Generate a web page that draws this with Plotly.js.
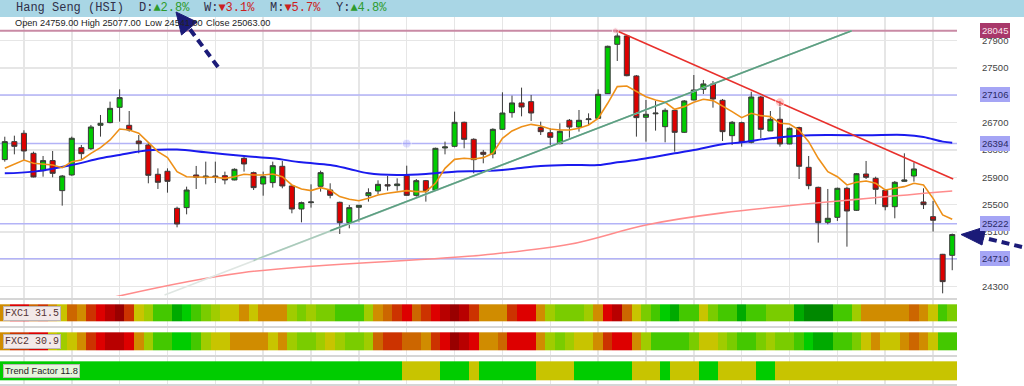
<!DOCTYPE html>
<html>
<head>
<meta charset="utf-8">
<script src="https://cdn.plot.ly/plotly-3.0.1.min.js"></script>
<style>html,body{margin:0;padding:0;background:#fff;}#chart{width:1024px;height:386px;}</style>
</head>
<body>
<div id="chart"></div>
<script>
// ---------------- DATA ----------------
const days = [...Array(100).keys()];
const openP = [26160,26423,26545,26252,25998,26145,25706,25935,26335,26320,26662,26701,26925,26662,26432,26374,25945,25989,25447,25457,
25935,25896,25920,25925,25862,26179,25969,25803,25823,26062,25774,25437,25530,25769,25715,25535,25237,25462,25632,25701,
25793,25779,25925,25637,25852,25710,26330,26354,26706,26457,26267,26242,26603,26847,26989,27008,26628,26554,26393,26735,
26637,26745,26764,27125,27847,27969,27384,26779,26830,26642,26881,26559,27032,27188,27267,27028,26510,26701,26413,27076,
26579,26750,26389,26628,26047,25754,25242,25315,25740,25418,25949,25886,25710,25471,25842,25920,25540,25325,24774,24759];
const highP = [26495,26510,26589,26276,26213,26286,25935,26496,26374,26667,26813,27008,27188,26871,26520,26398,26032,26032,25471,25764,
26067,26130,26130,25984,26032,26203,25984,25984,26130,26140,25789,25545,25798,25998,25813,25545,25496,25496,25740,25857,
25920,25886,26071,25876,25862,26335,26423,26862,26715,26472,26301,26618,27145,27096,27213,27106,26715,26618,26691,26754,
26886,26837,27188,27828,28045,27984,27398,27032,27018,26910,26886,27032,27398,27325,27310,27047,26725,26715,27154,27091,
26871,27018,26628,26642,26213,25764,25730,25750,25764,25964,26140,25910,25725,25847,26252,26120,25740,25554,24780,25077];
const lowP = [26130,26237,26154,25900,25910,25901,25486,25925,26154,26301,26496,26691,26715,26569,26252,25813,25730,25676,25169,25359,
25730,25798,25818,25798,25857,25984,25715,25632,25750,25740,25374,25242,25457,25691,25593,25071,25154,25252,25545,25652,
25706,25706,25632,25618,25545,25706,26237,26340,26325,25959,26106,26179,26593,26774,26793,26725,26520,26374,26384,26481,
26569,26667,26754,27120,27603,27379,26496,26423,26584,26413,26276,26549,27028,27120,26920,26432,26374,26349,26398,26472,
26579,26349,26384,25876,25725,24945,25213,25262,24886,25408,25876,25506,25418,25301,25837,25837,25437,25106,24203,24541];
const closeP = [26423,26354,26286,25906,26145,25959,25920,26472,26247,26637,26691,26910,27067,26593,26393,25930,25828,25842,25218,25715,
25901,25920,25901,25862,26018,26096,25750,25910,26071,25774,25437,25530,25540,25969,25637,25237,25457,25491,25676,25798,
25774,25803,25637,25852,25701,26325,26345,26706,26457,26159,26237,26603,26842,26989,26930,26842,26569,26486,26574,26637,
26735,26755,27115,27818,27969,27388,26774,26823,26840,26881,26559,27018,27179,27267,27047,26569,26706,26413,27076,26603,
26750,26389,26618,26062,25779,25237,25301,25740,25408,25954,25901,25725,25471,25828,25862,26023,25501,25272,24374,25063];

// short moving average (orange), read per day
const maShort = [26032,26091,26154,26106,26091,26081,26042,26130,26154,26252,26335,26447,26608,26593,26545,26413,26276,26189,25984,25910,
25901,25901,25901,25886,25910,25945,25935,25935,25950,25910,25789,25730,25706,25750,25715,25618,25579,25559,25593,25642,
25667,25691,25706,25691,25691,25813,26032,26164,26179,26169,26189,26252,26472,26579,26642,26676,26652,26608,26593,26593,
26618,26667,26764,26984,27228,27237,27154,27081,27032,26998,26896,26935,26998,27042,27023,26945,26862,26774,26837,26803,
26789,26691,26681,26593,26423,26179,25984,25910,25789,25828,25847,25813,25715,25740,25764,25813,25789,25593,25350,25286];
// medium moving average (blue)
const maMidX = [0,3,7,10,12,15,18,21,25,28,31,34,36,38,41,44,47,50,53,56,59,62,64,66,68,70,72,75,77,80,83,86,90,94,96,98,99];
const maMidY = [25959,25984,26081,26179,26228,26296,26306,26267,26213,26179,26120,26081,26023,25959,25935,25950,25984,25993,26023,26067,26081,26081,26120,26154,26203,26252,26301,26384,26413,26472,26510,26520,26515,26520,26491,26423,26408];
// long moving average (light red)
const maLongX = [11.5,24.8,50,59,67,75,99];
const maLongY = [24150,24505,24764,24920,25203,25380,25700];

// drawn trend lines
const supportX = [16.7,88.5];
const supportY = [24180,28045];
const supportMidX = [26,88.5];
const supportMidY = [24685,28045];
const supportDarkX = [34,88.5];
const supportDarkY = [25117,28045];
const resistX = [63.94,99.1];
const resistY = [28045,25876];

// horizontal levels
const levels = [28045,27106,26394,25222,24710];
const tickVals = [24300,24700,25100,25500,25900,26300,26700,27100,27500,27900];
const tickText = ['24300','','25100','25500','25900','26300','26700','','27500','27900'];
const gridDays = [2,7,12,17,22,27,32,37,42,47,52,57,62,67,72,77,82,87,92,97];

// indicator strips (colour level 0 = dark red ... 12 = dark green)
const fxc1 = [5,2,2,4,3,5,6,4,5,3,2,1,0,3,6,7,9,9,11,10,9,8,7,6,6,5,6,5,5,5,7,8,7,8,8,9,9,9,7,5,4,3,2,4,3,2,1,0,1,3,
5,5,5,3,2,2,5,7,8,8,8,7,5,2,1,4,6,8,9,10,11,9,9,6,8,9,9,11,9,9,8,8,8,11,12,12,12,9,9,7,5,5,5,5,5,4,5,6,9,8];
const fxc2 = [5,3,3,2,2,6,7,6,5,3,2,1,1,2,5,7,9,9,10,10,9,7,6,6,5,5,5,5,6,5,7,8,8,7,6,7,8,8,7,4,3,3,4,4,5,3,2,0,1,2,
5,5,4,2,2,2,5,7,8,7,6,6,5,3,2,2,5,7,9,9,9,9,8,6,6,7,8,9,9,8,7,8,8,9,10,11,11,9,9,8,6,5,6,6,5,4,5,6,9,9];
const trend = [10,10,10,10,10,10,10,10,10,10,10,10,10,10,10,10,10,10,10,10,10,10,10,10,10,10,10,10,10,10,10,10,10,10,10,10,10,10,10,10,
10,10,6,6,6,6,10,10,10,6,10,10,10,10,10,10,6,6,6,6,10,10,10,10,10,10,6,6,6,10,6,6,6,10,10,6,6,6,6,10,
10,6,6,6,6,6,6,6,6,6,6,6,6,6,6,6,6,6,6,6];
const levelColors = ['#990000','#b80000','#dd0000','#cc3300','#cc6600','#d08c00','#c8c400','#a0cc00','#7acc00','#44c800','#00cc00','#00aa00','#008800'];

const headerItems = ['Hang Seng (HSI)','D:','W:','M:','Y:'];
const headerChanges = ['', '▲2.8%', '▼3.1%', '▼5.7%', '▲4.8%'];
const ohlcText = ['Open 24759.00','High 25077.00','Low 24541.00','Close 25063.00'];
const stripLabels = ['FXC1 31.5','FXC2 30.9','Trend Factor 11.8'];

// ---------------- LAYOUT HELPERS ----------------
const W = 1024, H = 386, PLOT_R = 957;
const P = x => x / W;
const Q = y => 1 - y / H;

const nullRow = days.map(() => null);
const cs = levelColors.map((c, i) => [i / (levelColors.length - 1), c]);

const traces = [
  {type:'candlestick', x:days, open:openP, high:highP, low:lowP, close:closeP,
   increasing:{line:{color:'#3a3a3a', width:1}, fillcolor:'#00cc00'},
   decreasing:{line:{color:'#3a3a3a', width:1}, fillcolor:'#dd0000'},
   whiskerwidth:0, hoverinfo:'skip', xaxis:'x', yaxis:'y'},
  {type:'scatter', mode:'lines', x:maLongX, y:maLongY, line:{color:'#ff8c8c', width:1.6, shape:'spline'}, hoverinfo:'skip'},
  {type:'scatter', mode:'lines', x:maMidX, y:maMidY, line:{color:'#1a1aee', width:2, shape:'spline'}, hoverinfo:'skip'},
  {type:'scatter', mode:'lines', x:days, y:maShort, line:{color:'#ee9018', width:1.6}, hoverinfo:'skip'},
  {type:'scatter', mode:'lines', x:supportX, y:supportY, line:{color:'#dfe6e2', width:1.6}, hoverinfo:'skip'},
  {type:'scatter', mode:'lines', x:supportMidX, y:supportMidY, line:{color:'#a9cbbb', width:1.6}, hoverinfo:'skip'},
  {type:'scatter', mode:'lines', x:supportDarkX, y:supportDarkY, line:{color:'#5c9f82', width:1.6}, hoverinfo:'skip'},
  {type:'scatter', mode:'lines', x:resistX, y:resistY, line:{color:'#e8302c', width:1.6}, hoverinfo:'skip'},
  {type:'scatter', mode:'markers', x:[42, 81, 63.8], y:[26394, 27000, 28045],
   marker:{size:[9,9,6], color:['rgba(150,150,255,0.45)','rgba(255,110,110,0.55)','rgba(230,120,140,0.6)']}, hoverinfo:'skip'},
  {type:'heatmap', x:days, y:[304.3,321.7,332.3,350.7,361,380.7],
   z:[fxc1, nullRow, fxc2, nullRow, trend], zmin:0, zmax:12, colorscale:cs, showscale:false,
   xaxis:'x', yaxis:'y2', hoverinfo:'skip', zsmooth:false}
];

const shapes = [];
// header band
shapes.push({type:'rect', xref:'paper', yref:'paper', x0:0, x1:1, y0:Q(17), y1:1, fillcolor:'#a9d6e5', line:{width:0}, layer:'below'});
// level lines
levels.forEach((v, i) => {
  shapes.push({type:'line', xref:'x', yref:'y', x0:-0.5, x1:99.5, y0:v, y1:v,
    line:{color: i === 0 ? '#c98aa5' : '#b3b3f7', width: i === 0 ? 2 : 1.5}, layer:'between'});
});
// arrows
const navy = '#1b1b78';
shapes.push({type:'line', xref:'paper', yref:'paper', x0:P(218), y0:Q(67), x1:P(189), y1:Q(28), line:{color:navy, width:4, dash:'8px,5px'}});
shapes.push({type:'path', xref:'paper', yref:'paper', path:`M ${P(176)} ${Q(12)} L ${P(197)} ${Q(22)} L ${P(181.5)} ${Q(35)} Z`, fillcolor:navy, line:{color:navy, width:1}});
shapes.push({type:'line', xref:'paper', yref:'paper', x0:P(1022), y0:Q(247), x1:P(983), y1:Q(237.5), line:{color:navy, width:4, dash:'8px,5px'}});
shapes.push({type:'path', xref:'paper', yref:'paper', path:`M ${P(961)} ${Q(234.5)} L ${P(986)} ${Q(226.5)} L ${P(982)} ${Q(245)} Z`, fillcolor:navy, line:{color:navy, width:1}});

const annotations = [];
// header text
const headerX = [15, 138, 203, 269, 335];
headerItems.forEach((t, i) => {
  const ch = headerChanges[i];
  const col = ch.startsWith('▲') ? '#2e9b2e' : '#cc2020';
  annotations.push({xref:'paper', yref:'paper', x:P(headerX[i]), y:Q(8.5), xanchor:'left', yanchor:'middle', showarrow:false,
    text: ch ? `${t}<span style="color:${col}">${ch}</span>` : t,
    font:{family:'Liberation Mono, DejaVu Sans Mono, monospace', size:12, color:'#30304a'}, borderpad:0});
});
// OHLC text
const ohlcX = [14, 80, 144, 205];
ohlcText.forEach((t, i) => annotations.push({xref:'paper', yref:'paper', x:P(ohlcX[i]), y:Q(23.5), xanchor:'left', yanchor:'middle',
  showarrow:false, text:t, font:{family:'Liberation Sans, Arial, sans-serif', size:9.2, color:'#222'}, borderpad:0}));
// level labels
levels.forEach((v, i) => annotations.push({xref:'paper', yref:'y', x:P(980), y:v, xanchor:'left', yanchor:'middle', showarrow:false,
  text:String(v), font:{family:'Liberation Sans, Arial, sans-serif', size:9.5, color: i === 0 ? '#fbe4ee' : '#2a2a66'},
  bgcolor: i === 0 ? '#a8386a' : '#a5a5f5', bordercolor: i === 0 ? '#a8386a' : '#a5a5f5', borderwidth:1, borderpad:1}));
// strip labels
const stripY = [313, 341.5, 371];
stripLabels.forEach((t, i) => annotations.push({xref:'paper', yref:'paper', x:P(3), y:Q(stripY[i]), xanchor:'left', yanchor:'middle',
  showarrow:false, text:t,
  font:{family: i < 2 ? 'Liberation Mono, DejaVu Sans Mono, monospace' : 'Liberation Sans, Arial, sans-serif', size: i < 2 ? 10 : 9.3, color: i < 2 ? '#553333' : '#222'},
  bgcolor: i < 2 ? '#f3e9e9' : '#e6f4dc', bordercolor:'#bdb5b5', borderwidth:1, borderpad:1}));

const layout = {
  width:W, height:H, margin:{l:0, r:0, t:0, b:0}, paper_bgcolor:'#fff', plot_bgcolor:'#fff', showlegend:false,
  boxgap:0.25,
  xaxis:{domain:[0, PLOT_R / W], range:[-0.5, 99.5], tickvals:gridDays, showticklabels:false, ticks:'',
    showgrid:true, gridcolor:'#e6e6e6', gridwidth:1.5, zeroline:false, showline:false, rangeslider:{visible:false}, anchor:'y'},
  yaxis:{domain:[Q(296), Q(17)], range:[24163.9, 28246.8], side:'right', tickvals:tickVals, ticktext:tickText, ticks:'',
    ticklabelstandoff:24, tickfont:{family:'Liberation Sans, Arial, sans-serif', size:9.5, color:'#444'},
    showgrid:true, gridcolor:'#e6e6e6', gridwidth:1.5, zeroline:false, showline:false, anchor:'x'},
  yaxis2:{domain:[0, Q(296)], range:[386, 296], tickvals:[299, 327.3, 356, 384.5], showticklabels:false, ticks:'',
    showgrid:true, gridcolor:'#d6d6d6', gridwidth:2, zeroline:false, showline:false, anchor:'x'},
  shapes, annotations
};

Plotly.newPlot('chart', traces, layout, {displayModeBar:false, staticPlot:true});
</script>
</body>
</html>
